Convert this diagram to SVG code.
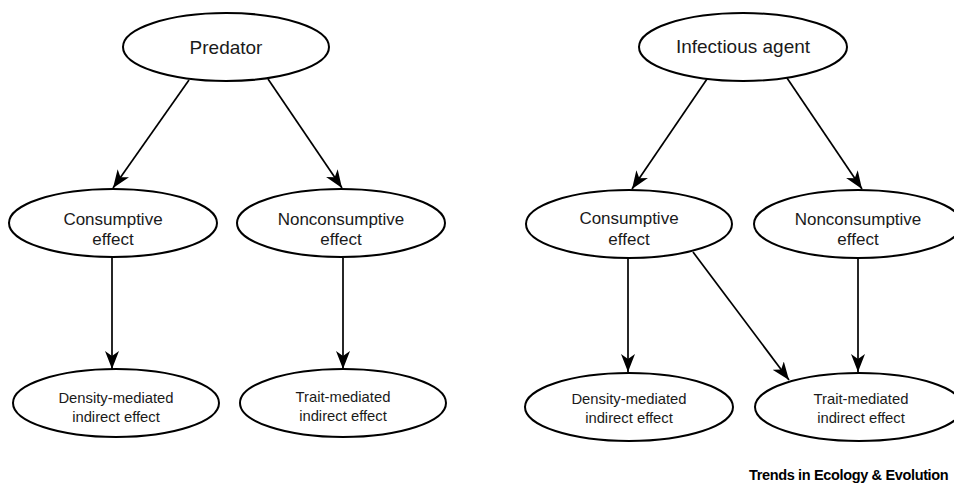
<svg xmlns="http://www.w3.org/2000/svg" width="954" height="483" viewBox="0 0 954 483">
<style>
.node ellipse { fill: #ffffff; stroke: #000000; stroke-width: 2; }
.node text { font-family: "Liberation Sans", Arial, sans-serif; fill: #1a1a1a; text-anchor: middle; }
.t1 { font-size: 19px; }
.t2 { font-size: 17px; }
.t3 { font-size: 14.8px; }
#connectors line { stroke: #000000; stroke-width: 1.7; marker-end: url(#arrow); }
.footer { font-family: "Liberation Sans", Arial, sans-serif; font-weight: bold; font-size: 14.5px; letter-spacing: -0.35px; fill: #000000; }
</style>
<defs>
<marker id="arrow" viewBox="0 0 18 14" refX="18" refY="7" markerWidth="18" markerHeight="14" markerUnits="userSpaceOnUse" orient="auto">
<path d="M0,0 L18,7 L0,14 L5,7 Z" fill="#000000"/>
</marker>
</defs>
<rect x="0" y="0" width="954" height="483" fill="#ffffff"/>
<g id="connectors">
<line x1="189" y1="80" x2="113" y2="188"/>
<line x1="268" y1="79" x2="342" y2="188"/>
<line x1="112" y1="257" x2="112" y2="369"/>
<line x1="343" y1="258" x2="343" y2="369"/>
<line x1="707" y1="79" x2="632" y2="189"/>
<line x1="787" y1="78" x2="862" y2="189"/>
<line x1="628" y1="258" x2="628" y2="372"/>
<line x1="693" y1="252" x2="789" y2="380"/>
<line x1="858" y1="258" x2="858" y2="372"/>
</g>
<g id="node-predator" class="node">
<ellipse cx="226" cy="47" rx="103" ry="34"/>
<text class="t1" x="226" y="54">Predator</text>
</g>
<g id="node-consumptive-left" class="node">
<ellipse cx="113" cy="223" rx="104" ry="34"/>
<text class="t2" x="113" y="225">Consumptive</text>
<text class="t2" x="113" y="245">effect</text>
</g>
<g id="node-nonconsumptive-left" class="node">
<ellipse cx="341" cy="223" rx="104" ry="34"/>
<text class="t2" x="341" y="225">Nonconsumptive</text>
<text class="t2" x="341" y="245">effect</text>
</g>
<g id="node-density-left" class="node">
<ellipse cx="116" cy="403" rx="103" ry="34"/>
<text class="t3" x="116" y="403">Density-mediated</text>
<text class="t3" x="116" y="422">indirect effect</text>
</g>
<g id="node-trait-left" class="node">
<ellipse cx="343" cy="403" rx="103" ry="34"/>
<text class="t3" x="343" y="402">Trait-mediated</text>
<text class="t3" x="343" y="421">indirect effect</text>
</g>
<g id="node-infectious" class="node">
<ellipse cx="743" cy="47" rx="104" ry="34"/>
<text class="t1" x="743" y="53">Infectious agent</text>
</g>
<g id="node-consumptive-right" class="node">
<ellipse cx="629" cy="224" rx="103" ry="34"/>
<text class="t2" x="629" y="224">Consumptive</text>
<text class="t2" x="629" y="245">effect</text>
</g>
<g id="node-nonconsumptive-right" class="node">
<ellipse cx="858" cy="224" rx="104" ry="34"/>
<text class="t2" x="858" y="225">Nonconsumptive</text>
<text class="t2" x="858" y="245">effect</text>
</g>
<g id="node-density-right" class="node">
<ellipse cx="629" cy="407" rx="104" ry="34"/>
<text class="t3" x="629" y="404">Density-mediated</text>
<text class="t3" x="629" y="423">indirect effect</text>
</g>
<g id="node-trait-right" class="node">
<ellipse cx="859" cy="407" rx="104" ry="34"/>
<text class="t3" x="861" y="404">Trait-mediated</text>
<text class="t3" x="861" y="423">indirect effect</text>
</g>
<text class="footer" x="749" y="480">Trends in Ecology &amp; Evolution</text>
</svg>
